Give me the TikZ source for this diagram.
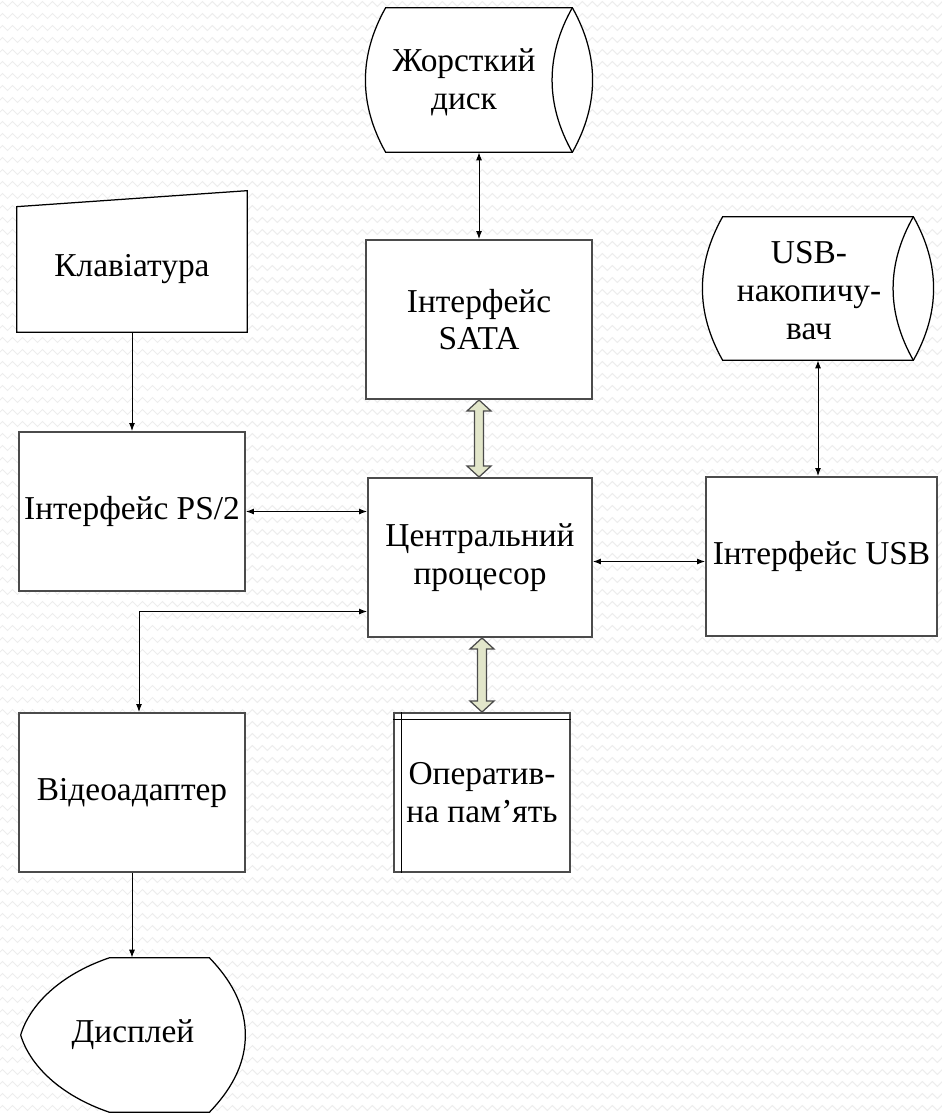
\documentclass[tikz,border=0pt]{standalone}
\usepackage{fontspec}
\setmainfont{Liberation Serif}
\usetikzlibrary{calc}
\usetikzlibrary{arrows.meta}
\usetikzlibrary{decorations.pathmorphing}
\usetikzlibrary{backgrounds}
\definecolor{rimgrey}{RGB}{75,75,75}
\definecolor{busgreen}{RGB}{226,230,202}
\definecolor{wavegrey}{RGB}{237,237,237}
\tikzset{
	blockfont/.style={font=\fontsize{19}{21.5}\selectfont, align=center},
	block/.style={blockfont, draw=rimgrey, line width=0.04cm, fill=white, inner sep=0pt, minimum height=3.18cm, minimum width=#1},
	outline/.style={draw=black, line width=0.025cm, fill=white},
	conn/.style={line width=0.02cm},
	bus/.style={draw=rimgrey, line width=0.025cm, fill=busgreen},
}
% drum shaped storage round a node
\newcommand{\drum}[1]{%
	\draw[outline] (#1.north west) .. controls +(-27,48) and +(-27,-48) .. (#1.south west) -- (#1.south east) .. controls +(27,-48) and +(27,48) .. (#1.north east) -- cycle;
	\draw[outline, fill=none] (#1.north east) .. controls +(-27,48) and +(-27,-48) .. (#1.south east);}
% wide double arrow between two nodes
\newcommand{\busarrow}[2]{%
	\draw[bus] (#1) -- ++(12,11) -- ++(-7.5,0) -- ($(#1 |- #2)+(4.5,-11)$) -- ++(7.5,0) -- (#1 |- #2) -- ++(-12,-11) -- ++(7.5,0) -- ($(#1)+(-4.5,11)$) -- ++(-7.5,0) -- cycle;}

\begin{document}
\begin{tikzpicture}[x=0.02cm, y=-0.02cm, >={Latex[length=0.16cm,width=0.12cm]}]
	\useasboundingbox (0,0) rectangle (942,1116);
	\begin{scope}[on background layer]
		\clip (0,0) rectangle (942,1116);
		\foreach \row in {4,16,...,1116}
			\draw[wavegrey, line width=0.02cm, decorate, decoration={zigzag, segment length=0.2cm, amplitude=0.05cm}] (-10,\row) -- (952,\row);
	\end{scope}

	\node[minimum width=3.72cm, minimum height=2.88cm] (disk) at (479,80) {};
	\node[blockfont] (disk text) at ($(disk)+(-15,2)$) {Жорсткий\\диск};
	\node[minimum width=3.8cm, minimum height=2.86cm] (usbd) at (818,288.5) {};
	\node[blockfont] (usbd text) at ($(usbd)+(-9,2)$) {USB-\\накопичу-\\вач};
	\node[blockfont, minimum width=4.6cm, minimum height=2.5cm] (keyb) at (132,269.5) {Клавіатура};
	\node[blockfont, minimum width=4.48cm, minimum height=3.08cm] (display) at (133,1035) {Дисплей};

	\node[block=4.52cm] (sata) at (479,319.5) {Інтерфейс\\SATA};
	\node[block=4.48cm] (cpu) at (480,557.5) {Центральний\\процесор};
	\node[block=4.52cm] (ps2) at (132,511.5) {Інтерфейс PS/2};
	\node[block=4.62cm] (usb) at (821.5,556.5) {Інтерфейс USB};
	\node[block=4.52cm] (video) at (132,792.5) {Відеоадаптер};
	\node[block=3.52cm] (ram) at (482,792.5) {Оператив-\\на пам’ять};
	\draw[line width=0.02cm] ($(ram.north west)+(8,0)$) -- ($(ram.south west)+(8,0)$);
	\draw[line width=0.02cm] ($(ram.north west)+(0,7)$) -- ($(ram.north east)+(0,7)$);

	\begin{scope}[on background layer]
		\drum{disk}
		\drum{usbd}
		\draw[outline] (keyb.south west) -- (keyb.north west) -- ($(keyb.north east)+(0,-16)$) -- (keyb.south east) -- cycle;
		\draw[outline] (display.west) .. controls +(9,-30) and +(-50,17) .. ($(display.north west)+(89,0)$) -- ($(display.north east)+(-36,0)$) .. controls +(26,27) and +(0,-25) .. (display.east) .. controls +(0,25) and +(26,-27) .. ($(display.south east)+(-36,0)$) -- ($(display.south west)+(89,0)$) .. controls +(-50,-17) and +(9,30) .. (display.west);
	\end{scope}

	\draw[conn, <->] (disk.south) -- (disk.south |- sata.north);
	\draw[conn, <->] (usbd.south) -- (usbd.south |- usb.north);
	\draw[conn, ->] (keyb.south) -- (keyb.south |- ps2.north);
	\draw[conn, <->] (ps2.east) -- (ps2.east -| cpu.west);
	\coordinate (usb link) at ($(cpu.east)+(0,4)$);
	\draw[conn, <->] (usb link) -- (usb link -| usb.west);
	\draw[conn, <->] ($(cpu.west)+(0,54)$) -| ($(video.north)+(7,0)$);
	\draw[conn, ->] (video.south) -- (video.south |- display.north);

	\busarrow{sata.south}{cpu.north}
	\coordinate (ram bus) at (cpu.south -| ram.north);
	\busarrow{ram bus}{ram.north}
\end{tikzpicture}
\end{document}
